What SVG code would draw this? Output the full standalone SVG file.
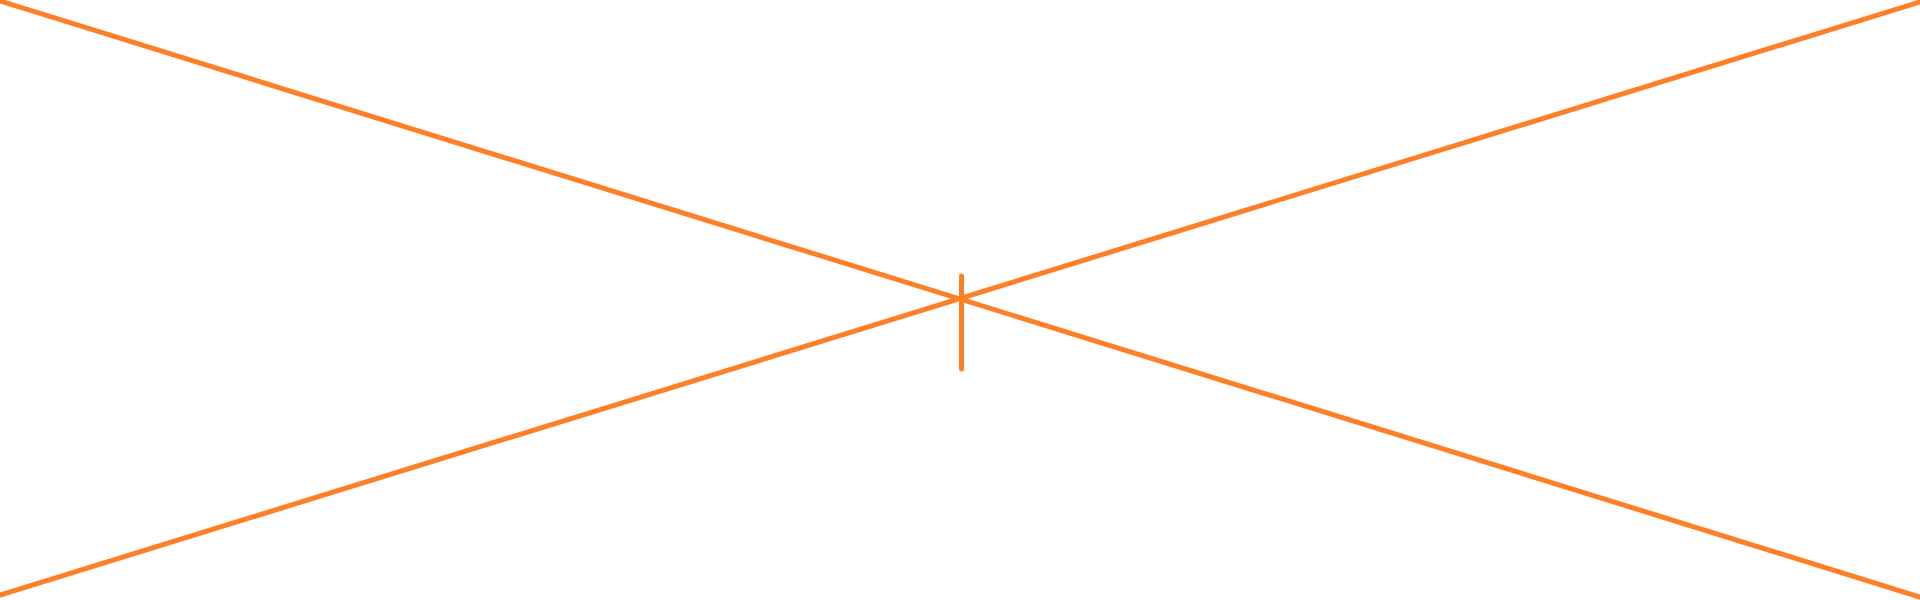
<svg xmlns="http://www.w3.org/2000/svg" width="1920" height="600" viewBox="0 0 1920 600">
<style>
.ln{stroke:#ff7f27;stroke-width:5;stroke-linecap:round;fill:none}
</style>
<rect width="1920" height="600" fill="#ffffff"/>
<g id="connectors">
<line class="ln" x1="0" y1="1" x2="1920" y2="597"/>
<line class="ln" x1="0" y1="595" x2="1920" y2="2"/>
<line class="ln" x1="961.5" y1="276" x2="961.5" y2="369"/>
</g>
</svg>
